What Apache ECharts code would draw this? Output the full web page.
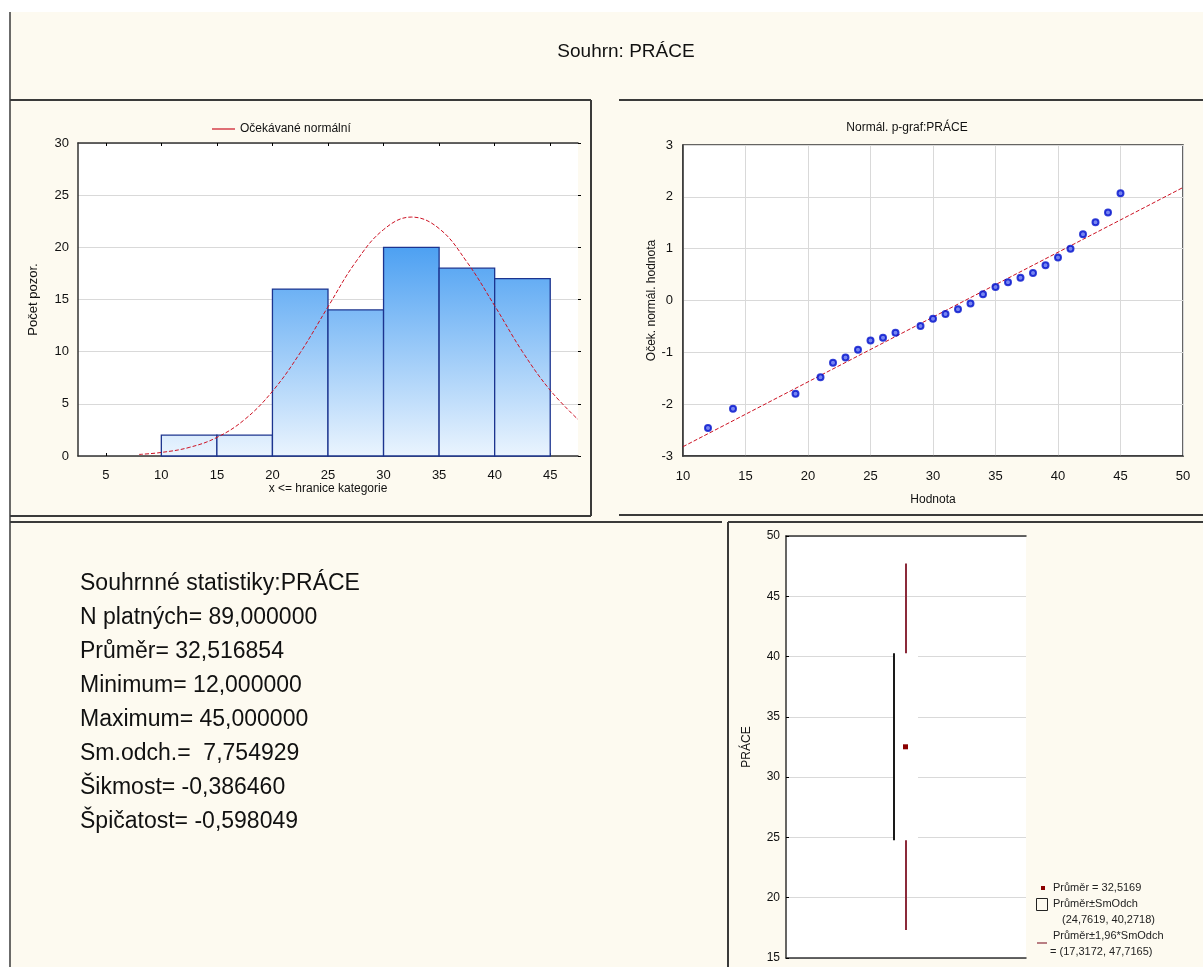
<!DOCTYPE html>
<html><head><meta charset="utf-8">
<script src="https://cdn.jsdelivr.net/npm/echarts@6/dist/echarts.min.js"></script>
<style>html,body{margin:0;padding:0;background:#fff;}#c{width:1203px;height:967px;}</style>
</head><body><div id="c"></div>
<script>
// ---------- data ----------
const binEdges = [5, 10, 15, 20, 25, 30, 35, 40, 45];
const binCounts = [0, 2, 2, 16, 14, 20, 18, 17];
const histTicks = [5, 10, 15, 20, 25, 30, 35, 40, 45];
const curveX = [8, 10, 12.5, 15, 17.5, 20, 22.5, 25, 27.5, 30, 32.5, 35, 37.5, 40, 42.5, 45, 47.5];
const curveY = [0.15, 0.34, 0.82, 1.78, 3.5, 6.2, 9.9, 14.3, 18.6, 21.7, 22.9, 21.8, 18.6, 14.4, 10.0, 6.3, 3.5];
const qqX = [12, 14, 19, 21, 22, 23, 24, 25, 26, 27, 29, 30, 31, 32, 33, 34, 35, 36, 37, 38, 39, 40, 41, 42, 43, 44, 45];
const qqY = [-2.46, -2.09, -1.80, -1.48, -1.20, -1.10, -0.95, -0.77, -0.72, -0.62, -0.49, -0.35, -0.26, -0.17, -0.06, 0.12, 0.26, 0.35, 0.44, 0.53, 0.68, 0.83, 1.00, 1.28, 1.51, 1.70, 2.07];
const qqLineX = [10, 50];
const qqLineY = [-2.82, 2.18];
const boxMean = 32.5169;
const boxSD = [24.7619, 40.2718];
const boxWhisker = [17.3172, 47.7165];
const statLines = [
  'Souhrnné statistiky:PRÁCE',
  'N platných= 89,000000',
  'Průměr= 32,516854',
  'Minimum= 12,000000',
  'Maximum= 45,000000',
  'Sm.odch.=  7,754929',
  'Šikmost= -0,386460',
  'Špičatost= -0,598049'
];
const boxLegendLines = [
  'Průměr = 32,5169',
  'Průměr±SmOdch',
  '(24,7619, 40,2718)',
  'Průměr±1,96*SmOdch',
  '= (17,3172, 47,7165)'
];

// ---------- chart ----------
const FONT = '"Liberation Sans", Arial, sans-serif';
const DARK = '#333';
const GRIDC = '#d9d9d9';
const chart = echarts.init(document.getElementById('c'), null, {renderer: 'canvas'});

const histData = binCounts.map((c, i) => [binEdges[i], binEdges[i + 1], c]);
const barFill = {
  type: 'linear', x: 0, y: 248, x2: 0, y2: 456, global: true,
  colorStops: [{offset: 0, color: '#4ea1f2'}, {offset: 1, color: '#eaf4fe'}]
};

const lbl = (size) => ({color: '#111', fontFamily: FONT, fontSize: size});

const panelLine = (x1, y1, x2, y2, w) => ({
  type: 'line', shape: {x1, y1, x2, y2}, style: {stroke: '#3a3a3a', lineWidth: w || 2}, z: 100
});

const graphics = [
  {type: 'rect', shape: {x: 0, y: 0, width: 1203, height: 12}, style: {fill: '#fff'}, z: 90},
  {type: 'rect', shape: {x: 0, y: 0, width: 10, height: 967}, style: {fill: '#fff'}, z: 90},
  panelLine(10, 12, 10, 967, 1.5),
  panelLine(10, 100, 591, 100),
  panelLine(591, 100, 591, 516),
  panelLine(10, 516, 591, 516),
  panelLine(619, 100, 1203, 100),
  panelLine(619, 515, 1203, 515),
  panelLine(10, 522, 722, 522),
  panelLine(728, 522, 1203, 522),
  panelLine(728, 522, 728, 967)
];
statLines.forEach((t, i) => {
  graphics.push({type: 'text', left: 80, top: 572 + i * 34, z: 100,
    style: {text: t, fill: '#111', font: '23px ' + FONT}});
});
// box-plot legend
const legX = 1053;
const legTops = [882, 898, 914, 930, 946];
const legOff = [0, 0, 9, 0, -3];
boxLegendLines.forEach((t, i) => {
  graphics.push({type: 'text', left: legX + legOff[i], top: legTops[i], z: 100,
    style: {text: t, fill: '#222', font: '11px ' + FONT}});
});
graphics.push({type: 'rect', shape: {x: 1041, y: 886, width: 4, height: 4}, style: {fill: '#8b0000'}, z: 100});
graphics.push({type: 'rect', shape: {x: 1036.5, y: 898.5, width: 11, height: 12}, style: {fill: 'none', stroke: '#222', lineWidth: 1}, z: 100});
graphics.push({type: 'line', shape: {x1: 1037, y1: 943, x2: 1047, y2: 943}, style: {stroke: '#8b2a3a', lineWidth: 1.2}, z: 100});

const option = {
  backgroundColor: '#fdfaf0',
  animation: false,
  textStyle: {fontFamily: FONT},
  title: [
    {text: 'Souhrn: PRÁCE', left: 621, top: 37, textAlign: 'center',
      textStyle: {fontSize: 19, fontWeight: 'normal', color: '#111', fontFamily: FONT}},
    {text: 'Normál. p-graf:PRÁCE', left: 902, top: 117, textAlign: 'center',
      textStyle: {fontSize: 12, fontWeight: 'normal', color: '#111', fontFamily: FONT}}
  ],
  legend: {
    data: [{name: 'Očekávané normální', icon: 'rect'}], left: 207, top: 118, itemWidth: 23, itemHeight: 1.2, itemGap: 10,
    textStyle: {fontSize: 12, color: '#111', fontFamily: FONT},
    itemStyle: {color: '#cc1122', borderWidth: 0}
  },
  grid: [
    {left: 78, top: 143, width: 500, height: 313, show: true, backgroundColor: '#fff', borderWidth: 0},
    {left: 683, top: 145, width: 500, height: 311, show: true, backgroundColor: '#fff', borderColor: DARK, borderWidth: 1.5},
    {left: 786, top: 536, width: 240, height: 422, show: true, backgroundColor: '#fff', borderWidth: 0}
  ],
  xAxis: [
    {gridIndex: 0, type: 'value', min: 2.5, max: 47.5, position: 'bottom',
      name: 'x <= hranice kategorie', nameLocation: 'middle', nameGap: 26, nameTextStyle: lbl(12),
      axisLine: {show: true, onZero: false, lineStyle: {color: DARK, width: 1.5}},
      axisTick: {show: true, inside: true, length: 3, customValues: histTicks, lineStyle: {color: '#000'}},
      axisLabel: Object.assign({margin: 13, customValues: histTicks}, lbl(13)),
      splitLine: {show: false}},
    {gridIndex: 0, type: 'value', min: 2.5, max: 47.5, position: 'top',
      axisLine: {show: true, onZero: false, lineStyle: {color: DARK, width: 1.5}},
      axisTick: {show: true, inside: true, length: 3, customValues: histTicks, lineStyle: {color: '#000'}},
      axisLabel: {show: false}, splitLine: {show: false}},
    {gridIndex: 1, type: 'value', min: 10, max: 50, interval: 5,
      name: 'Hodnota', nameLocation: 'middle', nameGap: 38, nameTextStyle: lbl(12),
      axisLine: {show: true, onZero: false, lineStyle: {color: DARK, width: 1.5}},
      axisTick: {show: false},
      axisLabel: Object.assign({margin: 14}, lbl(13)),
      splitLine: {show: true, lineStyle: {color: GRIDC, width: 1}}},
    {gridIndex: 2, type: 'value', min: 0, max: 1, position: 'bottom',
      axisLine: {show: true, onZero: false, lineStyle: {color: DARK, width: 1.5}},
      axisTick: {show: false}, axisLabel: {show: false}, splitLine: {show: false}},
    {gridIndex: 2, type: 'value', min: 0, max: 1, position: 'top',
      axisLine: {show: true, onZero: false, lineStyle: {color: DARK, width: 1.5}},
      axisTick: {show: false}, axisLabel: {show: false}, splitLine: {show: false}}
  ],
  yAxis: [
    {gridIndex: 0, type: 'value', min: 0, max: 30, interval: 5,
      name: 'Počet pozor.', nameLocation: 'middle', nameGap: 38, nameTextStyle: lbl(13),
      axisLine: {show: true, onZero: false, lineStyle: {color: DARK, width: 1.5}},
      axisTick: {show: false},
      axisLabel: Object.assign({margin: 9}, lbl(13)),
      splitLine: {show: true, lineStyle: {color: GRIDC, width: 1}}},
    {gridIndex: 0, type: 'value', min: 0, max: 30, interval: 5, position: 'right',
      axisLine: {show: false}, axisTick: {show: true, length: 3, lineStyle: {color: '#000'}},
      axisLabel: {show: false}, splitLine: {show: false}},
    {gridIndex: 1, type: 'value', min: -3, max: 3, interval: 1,
      name: 'Oček. normál. hodnota', nameLocation: 'middle', nameGap: 24, nameTextStyle: lbl(12),
      axisLine: {show: true, onZero: false, lineStyle: {color: DARK, width: 1.5}},
      axisTick: {show: false},
      axisLabel: Object.assign({margin: 10}, lbl(13)),
      splitLine: {show: true, lineStyle: {color: GRIDC, width: 1}}},
    {gridIndex: 2, type: 'value', min: 15, max: 50, interval: 5,
      name: 'PRÁCE', nameLocation: 'middle', nameGap: 33, nameTextStyle: lbl(12),
      axisLine: {show: true, onZero: false, lineStyle: {color: DARK, width: 1.5}},
      axisTick: {show: false},
      axisLabel: Object.assign({margin: 6}, lbl(12)),
      splitLine: {show: true, lineStyle: {color: GRIDC, width: 1}}},
    {gridIndex: 2, type: 'value', min: 15, max: 50, interval: 5, position: 'right',
      axisLine: {show: false}, axisTick: {show: true, length: 3, lineStyle: {color: '#000'}},
      axisLabel: {show: false}, splitLine: {show: false}}
  ],
  series: [
    {type: 'custom', name: 'hist', xAxisIndex: 0, yAxisIndex: 0, data: histData,
      encode: {x: [0, 1], y: 2},
      renderItem: function (params, api) {
        const lo = api.value(0), hi = api.value(1), c = api.value(2);
        if (!c) return null;
        const p0 = api.coord([lo, c]);
        const p1 = api.coord([hi, 0]);
        return {type: 'rect', shape: {x: p0[0], y: p0[1], width: p1[0] - p0[0], height: p1[1] - p0[1]},
          style: {fill: barFill, stroke: '#1c348f', lineWidth: 1.3}};
      }},
    {type: 'line', name: 'Očekávané normální', xAxisIndex: 0, yAxisIndex: 0,
      data: curveX.map((x, i) => [x, curveY[i]]), smooth: 0.4, symbol: 'none',
      lineStyle: {color: '#cc1122', width: 1, type: [4, 2]}, itemStyle: {color: '#cc1122'}, z: 5},
    {type: 'line', name: 'qqline', xAxisIndex: 2, yAxisIndex: 2,
      data: qqLineX.map((x, i) => [x, qqLineY[i]]), symbol: 'none',
      lineStyle: {color: '#cc1122', width: 1, type: [4, 2]}, z: 3},
    {type: 'scatter', name: 'qq', xAxisIndex: 2, yAxisIndex: 2,
      data: qqX.map((x, i) => [x, qqY[i]]), symbol: 'circle', symbolSize: 6,
      itemStyle: {color: '#5566ee', borderColor: '#0010cc', borderWidth: 2}, z: 4},
    {type: 'custom', name: 'box', xAxisIndex: 3, yAxisIndex: 3,
      data: [[0.5, boxSD[0], boxSD[1], boxWhisker[0], boxWhisker[1], boxMean]],
      encode: {x: 0, y: [1, 2, 3, 4, 5]},
      renderItem: function (params, api) {
        const x = api.value(0);
        const sLo = api.coord([x, api.value(1)]);
        const sHi = api.coord([x, api.value(2)]);
        const wLo = api.coord([x, api.value(3)]);
        const wHi = api.coord([x, api.value(4)]);
        const m = api.coord([x, api.value(5)]);
        const cx = sLo[0];
        return {type: 'group', children: [
          {type: 'rect', shape: {x: cx - 12, y: sHi[1], width: 24, height: sLo[1] - sHi[1]}, style: {fill: '#fff'}},
          {type: 'line', shape: {x1: cx - 12, y1: sHi[1], x2: cx - 12, y2: sLo[1]}, style: {stroke: '#1a1a1a', lineWidth: 2}},
          {type: 'line', shape: {x1: cx, y1: wHi[1], x2: cx, y2: sHi[1]}, style: {stroke: '#8b2a3a', lineWidth: 2}},
          {type: 'line', shape: {x1: cx, y1: sLo[1], x2: cx, y2: wLo[1]}, style: {stroke: '#8b2a3a', lineWidth: 2}},
          {type: 'rect', shape: {x: cx - 3, y: m[1] - 2.5, width: 5, height: 5}, style: {fill: '#8b0000'}}
        ]};
      }}
  ],
  graphic: graphics
};
chart.setOption(option);
</script>
</body></html>
